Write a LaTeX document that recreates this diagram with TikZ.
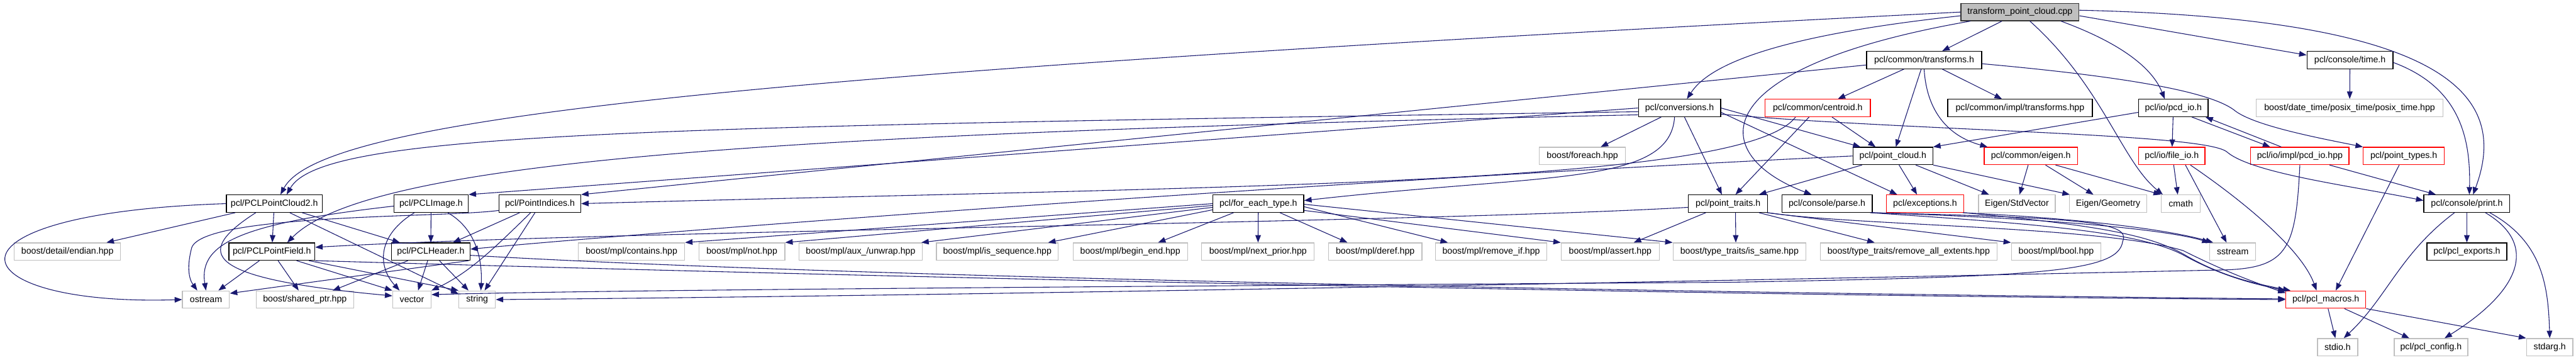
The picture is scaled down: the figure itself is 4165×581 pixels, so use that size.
\documentclass[tikz,border=0pt]{standalone}
\usepackage{fontspec}
\setmainfont{Liberation Sans}
\usetikzlibrary{arrows.meta}
\definecolor{edgec}{RGB}{25,25,112}
\definecolor{grayb}{RGB}{191,191,191}
\definecolor{redb}{RGB}{255,0,0}
\definecolor{rootf}{RGB}{191,191,191}
\tikzset{
  nbase/.style={rectangle, minimum height=28pt, inner sep=0pt, line width=1.3pt, font=\fontsize{14.4}{16}\selectfont, text=black},
  blackbox/.style={nbase, draw=black},
  graybox/.style={nbase, draw=grayb},
  redbox/.style={nbase, draw=redb},
  rootbox/.style={nbase, draw=black!80, fill=rootf},
  dep/.style={draw=edgec, line width=1.1pt, -{Triangle[length=12pt,width=9pt]}},
}
\begin{document}
\begin{tikzpicture}[x=1pt,y=-1pt]
\fill[white] (0,0) rectangle (4165,581);
\useasboundingbox (0,0) rectangle (4165,581);
% row 0
\node[rootbox, minimum width=191pt] (T) at (3266,19.5) {transform\_point\_cloud.cpp};
% row 1
\node[blackbox, minimum width=186pt] (TR) at (3111,97) {pcl/common/transforms.h};
\node[blackbox, minimum width=139pt] (TIME) at (3799.5,97) {pcl/console/time.h};
% row 2
\node[blackbox, minimum width=133pt] (CONV) at (2715.5,174.5) {pcl/conversions.h};
\node[redbox, minimum width=170pt] (CEN) at (2939,174.5) {pcl/common/centroid.h};
\node[blackbox, minimum width=234pt] (ITR) at (3266,174.5) {pcl/common/impl/transforms.hpp};
\node[blackbox, minimum width=112pt] (PCDIO) at (3514,174.5) {pcl/io/pcd\_io.h};
\node[graybox, minimum width=302pt] (POSIX) at (3799,174.5) {boost/date\_time/posix\_time/posix\_time.hpp};
% row 3
\node[graybox, minimum width=139pt] (FOREACH) at (2558.5,252) {boost/foreach.hpp};
\node[blackbox, minimum width=129pt] (PC) at (3060.5,252) {pcl/point\_cloud.h};
\node[redbox, minimum width=151pt] (EIG) at (3283.5,252) {pcl/common/eigen.h};
\node[redbox, minimum width=107pt] (FILEIO) at (3511.5,252) {pcl/io/file\_io.h};
\node[redbox, minimum width=159pt] (PCDHPP) at (3718.5,252) {pcl/io/impl/pcd\_io.hpp};
\node[redbox, minimum width=131pt] (PT) at (3886.5,252) {pcl/point\_types.h};
% row 4
\node[blackbox, minimum width=155pt] (PCL2) at (443.5,329) {pcl/PCLPointCloud2.h};
\node[blackbox, minimum width=120pt] (IMG) at (697,329) {pcl/PCLImage.h};
\node[blackbox, minimum width=132pt] (PI) at (873,329) {pcl/PointIndices.h};
\node[blackbox, minimum width=147pt] (FET) at (2034.5,329) {pcl/for\_each\_type.h};
\node[blackbox, minimum width=128pt] (PTR) at (2794,329) {pcl/point\_traits.h};
\node[blackbox, minimum width=146pt] (PARSE) at (2954,329) {pcl/console/parse.h};
\node[redbox, minimum width=125pt] (EXC) at (3112.5,329) {pcl/exceptions.h};
\node[graybox, minimum width=124pt] (STDV) at (3261,329) {Eigen/StdVector};
\node[graybox, minimum width=125pt] (GEOM) at (3408.5,329) {Eigen/Geometry};
\node[graybox, minimum width=63pt] (CMATH) at (3526,329) {cmath};
\node[blackbox, minimum width=139pt] (PRINT) at (3988.5,329) {pcl/console/print.h};
% row 5
\node[graybox, minimum width=172pt] (ENDIAN) at (109,406.5) {boost/detail/endian.hpp};
\node[blackbox, minimum width=139pt] (PF) at (439.5,406.5) {pcl/PCLPointField.h};
\node[blackbox, minimum width=127pt] (HDR) at (696.5,406.5) {pcl/PCLHeader.h};
\node[graybox, minimum width=172pt] (CONTAINS) at (1021,406.5) {boost/mpl/contains.hpp};
\node[graybox, minimum width=139pt] (NOT) at (1199.5,406.5) {boost/mpl/not.hpp};
\node[graybox, minimum width=199pt] (UNWRAP) at (1391.5,406.5) {boost/mpl/aux\_/unwrap.hpp};
\node[graybox, minimum width=197pt] (ISSEQ) at (1612.5,406.5) {boost/mpl/is\_sequence.hpp};
\node[graybox, minimum width=185pt] (BEGIN) at (1827.5,406.5) {boost/mpl/begin\_end.hpp};
\node[graybox, minimum width=182pt] (NEXT) at (2034,406.5) {boost/mpl/next\_prior.hpp};
\node[graybox, minimum width=151pt] (DEREF) at (2223.5,406.5) {boost/mpl/deref.hpp};
\node[graybox, minimum width=180pt] (REMIF) at (2411,406.5) {boost/mpl/remove\_if.hpp};
\node[graybox, minimum width=159pt] (ASSERT) at (2603.5,406.5) {boost/mpl/assert.hpp};
\node[graybox, minimum width=215pt] (ISSAME) at (2812.5,406.5) {boost/type\_traits/is\_same.hpp};
\node[graybox, minimum width=286pt] (RAE) at (3086,406.5) {boost/type\_traits/remove\_all\_extents.hpp};
\node[graybox, minimum width=145pt] (BOOL) at (3324.5,406.5) {boost/mpl/bool.hpp};
\node[graybox, minimum width=74pt] (SSTREAM) at (3610,406.5) {sstream};
\node[blackbox, minimum width=129pt] (EXPORTS) at (3988.5,406.5) {pcl/pcl\_exports.h};
% row 6
\node[graybox, minimum width=76pt] (OSTREAM) at (333,484) {ostream};
\node[graybox, minimum width=158pt] (SHARED) at (493,484) {boost/shared\_ptr.hpp};
\node[graybox, minimum width=62pt] (VECTOR) at (666,484) {vector};
\node[graybox, minimum width=59pt] (STRING) at (771.5,484) {string};
\node[redbox, minimum width=129pt] (MACROS) at (3760.5,484) {pcl/pcl\_macros.h};
% row 7
\node[graybox, minimum width=65pt] (STDIO) at (3779.5,561) {stdio.h};
\node[graybox, minimum width=119pt] (CONFIG) at (3930.5,561) {pcl/pcl\_config.h};
\node[graybox, minimum width=75pt] (STDARG) at (4122.5,561) {stdarg.h};

% ---- edges from transform_point_cloud.cpp
\draw[dep] (T.west) .. controls (1200,120) and (520,190) .. ([xshift=10pt]PCL2.north);
\draw[dep] ([yshift=-6pt]T.west) .. controls (2850,60) and (2760,110) .. ([xshift=12pt]CONV.north);
\draw[dep] ([xshift=16pt]T.south west) .. controls (2750,110) and (2760,250) .. ([xshift=-25pt]PARSE.north);
\draw[dep] (T) -- (TR);
\draw[dep] ([xshift=16pt]T.south) .. controls (3400,140) and (3430,260) .. ([xshift=3pt]CMATH.north west);
\draw[dep] ([xshift=-30pt]T.south east) .. controls (3430,70) and (3480,110) .. ([xshift=-14pt]PCDIO.north);
\draw[dep] ([yshift=-6pt]T.east) -- ([yshift=8pt]TIME.west);
\draw[dep] ([yshift=3pt]T.east) .. controls (3950,30) and (4060,150) .. ([xshift=10pt]PRINT.north);
% ---- time.h
\draw[dep] (TIME) -- (POSIX);
\draw[dep] ([yshift=-4pt]TIME.east) .. controls (3975,140) and (3995,220) .. ([xshift=4pt]PRINT.north);
% ---- transforms.h
\draw[dep] ([yshift=-8pt]TR.west) -- (PI.north east);
\draw[dep] (TR) -- (CEN);
\draw[dep] (TR) -- (PC);
\draw[dep] (TR) -- (ITR);
\draw[dep] (TR.south) .. controls (3115,180) and (3150,220) .. ([xshift=-70pt]EIG.north);
\draw[dep] ([yshift=-6pt]TR.east) .. controls (3450,125) and (3580,150) .. (3615,180) .. controls (3650,205) and (3760,225) .. (PT.north west);
% ---- conversions.h
\draw[dep] ([yshift=-6pt]CONV.west) .. controls (1000,205) and (520,215) .. ([xshift=20pt]PCL2.north);
\draw[dep] (CONV.west) -- (IMG.north east);
\draw[dep] ([yshift=-11pt]CONV.west) .. controls (1300,215) and (600,255) .. ([xshift=25pt]PF.north);
\draw[dep] (CONV) -- (FOREACH);
\draw[dep] ([xshift=-8pt]CONV.south) .. controls (2700,300) and (2500,280) .. ([yshift=5pt]FET.east);
\draw[dep] ([xshift=8pt]CONV.south) -- ([xshift=-10pt]PTR.north);
\draw[dep] (CONV.east) -- (PC);
\draw[dep] ([yshift=-7pt]CONV.east) -- ([xshift=-45pt]EXC.north);
\draw[dep] ([yshift=-10pt]CONV.east) .. controls (3100,212) and (3560,215) .. (3600,245) .. controls (3640,280) and (3800,300) .. ([yshift=5pt]PRINT.west);
% ---- centroid.h
\draw[dep] ([xshift=-36pt]CEN.south) .. controls (2820,300) and (2000,300) .. (PI.east);
\draw[dep] ([xshift=-14pt]CEN.south) -- ([xshift=12pt]PTR.north);
\draw[dep] ([xshift=23pt]CEN.south) -- ([xshift=-28pt]PC.north);
% ---- pcd_io.h / pcd_io.hpp
\draw[dep] ([yshift=-7pt]PCDIO.west) -- (PC.north east);
\draw[dep] (PCDIO) -- (FILEIO);
\draw[dep] ([xshift=30pt]PCDIO.south) -- ([xshift=-48pt]PCDHPP.north);
\draw[dep] ([xshift=-30pt]PCDHPP.north) -- ([xshift=52pt]PCDIO.south);
\draw[dep] ([xshift=48pt]PCDHPP.south) -- ([xshift=-50pt]PRINT.north);
\draw[dep] (PCDHPP.south) .. controls (3712,400) and (3700,432) .. (3600,436) .. controls (2500,460) and (1500,478) .. (STRING.east);
% ---- file_io.h
\draw[dep] ([xshift=3pt]FILEIO.south) -- ([xshift=-5pt]CMATH.north);
\draw[dep] ([xshift=22pt]FILEIO.south) -- ([xshift=-10pt]SSTREAM.north);
\draw[dep] ([xshift=30pt]FILEIO.south) .. controls (3620,320) and (3720,400) .. ([xshift=-15pt]MACROS.north);
% ---- point_types.h
\draw[dep] (PT) -- ([xshift=16pt]MACROS.north);
% ---- eigen.h
\draw[dep] (EIG) -- (STDV);
\draw[dep] (EIG) -- (GEOM);
\draw[dep] ([xshift=40pt]EIG.south) -- (CMATH.north west);
% ---- point_cloud.h
\draw[dep] ([xshift=-50pt]PC.south) -- ([xshift=50pt]PTR.north);
\draw[dep] ([xshift=10pt]PC.south) -- ([xshift=-13pt]EXC.north);
\draw[dep] ([xshift=37pt]PC.south) -- ([xshift=-45pt]STDV.north);
\draw[dep] (PC.south east) -- ([xshift=-62pt]GEOM.north);
\draw[dep] (PC.west) .. controls (2000,300) and (1000,380) .. ([yshift=4pt]HDR.east);
% ---- point_traits.h
\draw[dep] ([yshift=-6pt]PTR.west) .. controls (2300,360) and (1000,372) .. ([yshift=7pt]PF.east);
\draw[dep] ([xshift=-36pt]PTR.south) -- ([xshift=38pt]ASSERT.north);
\draw[dep] ([xshift=12pt]PTR.south) -- ([xshift=-6pt]ISSAME.north);
\draw[dep] ([xshift=50pt]PTR.south) -- ([xshift=-55pt]RAE.north);
\draw[dep] ([xshift=-2pt]PTR.south east) -- (BOOL.north west);
\draw[dep] (PTR.south east) .. controls (3000,365) and (3400,365) .. (3530,405) .. controls (3600,440) and (3650,458) .. ([yshift=-4pt]MACROS.north west);
% ---- parse.h
\draw[dep] ([xshift=-2pt]PARSE.south east) .. controls (3300,352) and (3500,370) .. (SSTREAM.north west);
\draw[dep] ([xshift=-4pt]PARSE.south east) .. controls (3300,362) and (3460,375) .. (3530,412) .. controls (3590,445) and (3640,458) .. (MACROS.north west);
\draw[dep] (PARSE.south east) .. controls (3380,352) and (3445,360) .. (3432,390) .. controls (3425,440) and (3300,447) .. (2800,456) .. controls (1800,463) and (1000,468) .. ([yshift=8pt]VECTOR.east);
% ---- exceptions.h
\draw[dep] ([xshift=-2pt]EXC.south east) .. controls (3400,355) and (3520,375) .. ([xshift=6pt]SSTREAM.north west);
\draw[dep] (EXC.south east) .. controls (3400,365) and (3480,380) .. (3538,415) .. controls (3595,447) and (3645,458) .. ([xshift=8pt]MACROS.north west);
% ---- PCLPointCloud2.h
\draw[dep] (PCL2) -- (ENDIAN);
\draw[dep] (PCL2) -- (PF);
\draw[dep] ([xshift=45pt]PCL2.south) -- ([xshift=-50pt]HDR.north);
\draw[dep] ([xshift=25pt]PCL2.south) -- ([yshift=9pt]STRING.west);
\draw[dep] ([xshift=-30pt]PCL2.south) .. controls (310,410) and (330,450) .. ([yshift=6pt]VECTOR.west);
\draw[dep] (PCL2.west) .. controls (-125,345) and (-70,495) .. (OSTREAM.west);
% ---- PCLImage.h
\draw[dep] ([yshift=-4pt]IMG.west) .. controls (400,360) and (320,390) .. (OSTREAM.north);
\draw[dep] ([xshift=-27pt]IMG.south) .. controls (610,380) and (610,430) .. ([xshift=-20pt]VECTOR.north);
\draw[dep] (IMG) -- (HDR);
\draw[dep] ([xshift=27pt]IMG.south) .. controls (770,370) and (780,420) .. ([xshift=6pt]STRING.north);
% ---- PointIndices.h
\draw[dep] ([yshift=-11pt]PI.west) .. controls (720,352) and (330,345) .. (310,400) .. controls (302,430) and (305,450) .. ([xshift=-14pt]OSTREAM.north);
\draw[dep] (PI) -- ([xshift=36pt]HDR.north);
\draw[dep] ([xshift=-15pt]PI.south) .. controls (800,400) and (760,440) .. (VECTOR.north east);
\draw[dep] ([xshift=-8pt]PI.south) -- ([xshift=12pt]STRING.north);
% ---- PCLHeader.h
\draw[dep] ([xshift=-37pt]HDR.south) -- ([xshift=45pt]SHARED.north);
\draw[dep] ([xshift=-5pt]HDR.south) -- ([xshift=10pt]VECTOR.north);
\draw[dep] ([xshift=14pt]HDR.south) -- ([xshift=-14pt]STRING.north);
\draw[dep] ([xshift=-3pt]HDR.south east) -- ([yshift=10pt]OSTREAM.east);
\draw[dep] ([yshift=-6pt]HDR.east) .. controls (1400,450) and (2800,474) .. ([yshift=1pt]MACROS.west);
% ---- PCLPointField.h
\draw[dep] (PF) -- (OSTREAM);
\draw[dep] (PF) -- (SHARED);
\draw[dep] ([xshift=40pt]PF.south) -- (VECTOR.north west);
\draw[dep] ([xshift=60pt]PF.south) -- (STRING.north west);
\draw[dep] (PF.south east) .. controls (1500,450) and (2800,478) .. (MACROS.west);
% ---- for_each_type.h
\draw[dep] (FET.west) -- (CONTAINS.north east);
\draw[dep] ([yshift=-3pt]FET.west) -- (NOT.north east);
\draw[dep] ([yshift=-6pt]FET.west) -- ([xshift=-2pt]UNWRAP.north east);
\draw[dep] ([yshift=-10pt]FET.west) -- ([xshift=-17pt]ISSEQ.north east);
\draw[dep] ([xshift=-40pt]FET.south) -- ([xshift=45pt]BEGIN.north);
\draw[dep] (FET) -- (NEXT);
\draw[dep] ([xshift=35pt]FET.south) -- ([xshift=-45pt]DEREF.north);
\draw[dep] ([yshift=-5pt]FET.east) -- ([xshift=-70pt]REMIF.north);
\draw[dep] ([yshift=-11pt]FET.east) -- ([xshift=-80pt]ASSERT.north);
\draw[dep] ([yshift=-1pt]FET.east) -- (ISSAME.north west);
% ---- pcl_macros.h
\draw[dep] (MACROS) -- (STDIO);
\draw[dep] ([xshift=30pt]MACROS.south) -- ([xshift=-35pt]CONFIG.north);
\draw[dep] (MACROS.south east) -- (STDARG.north west);
% ---- print.h
\draw[dep] (PRINT) -- (EXPORTS);
\draw[dep] ([xshift=-20pt]PRINT.south) .. controls (3880,410) and (3860,480) .. ([xshift=10pt]STDIO.north);
\draw[dep] ([xshift=30pt]PRINT.south) .. controls (4105,395) and (4075,470) .. ([xshift=22pt]CONFIG.north);
\draw[dep] ([xshift=37pt]PRINT.south) .. controls (4110,390) and (4120,460) .. (STDARG.north);
\end{tikzpicture}
\end{document}
